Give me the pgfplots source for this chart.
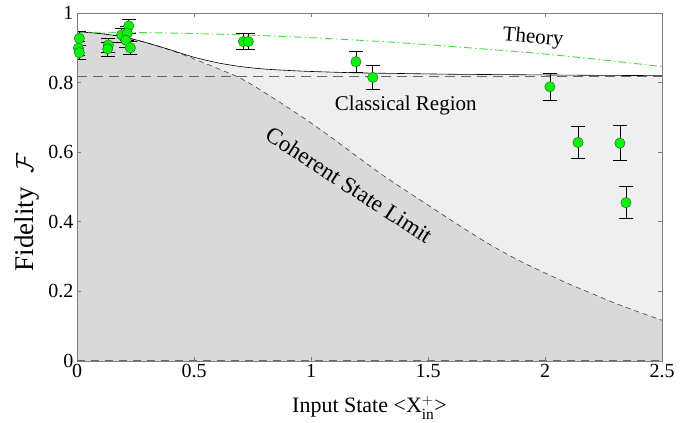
\documentclass[border=0pt]{standalone}
\usepackage{pgfplots}
\pgfplotsset{compat=1.18}
\usepackage{pgfplotstable}
\usepackage{amsmath}
\usepackage{fontspec}
\setmainfont{Liberation Serif}

\definecolor{regiondark}{HTML}{D9D9D9}
\definecolor{regionlight}{HTML}{EFEFEF}
\definecolor{theorygreen}{HTML}{44DD44}
\definecolor{markgreen}{HTML}{11EE11}
\definecolor{framegray}{HTML}{7F7F7F}

% Coherent state limit (lower boundary of the classical region)
\pgfplotstableread{
x    y
0.0  0.946
0.1  0.941
0.2  0.931
0.3  0.914
0.4  0.893
0.5  0.868
0.6  0.841
0.7  0.812
0.8  0.772
0.9  0.729
1.0  0.684
1.1  0.636
1.2  0.586
1.3  0.537
1.4  0.492
1.5  0.448
1.6  0.404
1.7  0.361
1.8  0.321
1.9  0.285
2.0  0.253
2.1  0.222
2.2  0.194
2.3  0.166
2.4  0.141
2.5  0.117
}\coherent

% Upper boundary of the classical region
\pgfplotstableread{
x    y
0.0  0.946
0.1  0.941
0.2  0.931
0.3  0.914
0.4  0.894
0.5  0.873
0.6  0.857
0.7  0.846
0.8  0.839
0.9  0.835
1.0  0.832
1.2  0.828
1.4  0.826
1.6  0.824
1.8  0.823
2.0  0.822
2.2  0.821
2.5  0.820
}\classical

% Theoretical fidelity
\pgfplotstableread{
x     y
0.0   0.945
0.25  0.944
0.5   0.941
0.75  0.936
1.0   0.929
1.25  0.920
1.5   0.909
1.75  0.896
2.0   0.882
2.25  0.865
2.5   0.846
}\theory

% Measured fidelities with their uncertainties
\pgfplotstableread{
x      y      e
0.010  0.927  0.020
0.006  0.899  0.020
0.010  0.886  0.020
0.134  0.908  0.020
0.131  0.897  0.020
0.221  0.963  0.020
0.191  0.937  0.020
0.215  0.942  0.020
0.209  0.922  0.020
0.228  0.900  0.020
0.711  0.918  0.023
0.732  0.918  0.023
1.192  0.860  0.029
1.264  0.815  0.035
2.021  0.788  0.039
2.141  0.628  0.045
2.320  0.626  0.050
2.346  0.455  0.046
}\measured

\begin{document}
\begin{tikzpicture}
\begin{axis}[
  width=585bp, height=348bp, scale only axis,
  xmin=0, xmax=2.5, ymin=0, ymax=1,
  xtick={0,0.5,1,1.5,2,2.5},
  ytick={0,0.2,0.4,0.6,0.8,1},
  tick align=inside,
  major tick length=4bp,
  axis on top,
  axis line style={framegray, line width=0.8bp},
  tick style={framegray, line width=0.6bp},
  /pgf/number format/assume math mode=true,
  tick label style={font=\fontsize{20bp}{24bp}\selectfont},
  xlabel={Input State <X$_{\text{in}}^{+}$>},
  ylabel={Fidelity\ \ $\mathcal{F}$},
  every axis x label/.style={at={(axis description cs:0.5,-0.149)}, anchor=base,
    font=\fontsize{22bp}{26bp}\selectfont},
  every axis y label/.style={at={(axis description cs:-0.0752,0.427)}, rotate=90, anchor=base,
    font=\fontsize{27bp}{31bp}\selectfont},
]
  % shaded regions
  \addplot[draw=none, fill=regionlight] table[x=x,y=y]{\classical} \closedcycle;
  \addplot[draw=none, fill=regiondark] table[x=x,y=y]{\coherent} \closedcycle;

  % classical threshold and zero line
  \addplot[black!60, line width=1bp, dash pattern=on 10bp off 6bp] coordinates {(0,0.817) (2.5,0.817)};
  \addplot[black!60, line width=0.8bp, dash pattern=on 8bp off 6bp] coordinates {(0,0.002) (2.5,0.002)};

  % boundaries
  \addplot[black!75, line width=0.6bp, dash pattern=on 5bp off 4bp, smooth] table[x=x,y=y]{\coherent};
  \addplot[black, line width=0.6bp, smooth] table[x=x,y=y]{\classical};

  % theory curve
  \addplot[theorygreen, line width=0.9bp, dash pattern=on 8bp off 3bp on 1.5bp off 3bp, smooth] table[x=x,y=y]{\theory};

  % measurements
  \addplot[only marks, mark=*, mark size=5.2bp,
    mark options={fill=markgreen, draw=green!45!black, line width=0.4bp},
    error bars/.cd, y dir=both, y explicit,
    error bar style={black, line width=0.6bp},
    error mark options={black, rotate=90, mark size=7bp, line width=0.6bp}]
    table[x=x, y=y, y error=e]{\measured};

  \node[font=\fontsize{21bp}{25bp}\selectfont, rotate=-5] at (axis cs:1.949,0.928) {Theory};
  \node[font=\fontsize{21bp}{25bp}\selectfont] at (axis cs:1.405,0.735) {Classical Region};
  \node[font=\fontsize{23bp}{27bp}\selectfont, rotate=-33] at (axis cs:1.163,0.506) {Coherent State Limit};
\end{axis}
\pgfresetboundingbox
\path (current axis.south west) ++(-77bp,-62bp) rectangle ++(699bp,423bp);
\end{tikzpicture}
\end{document}
